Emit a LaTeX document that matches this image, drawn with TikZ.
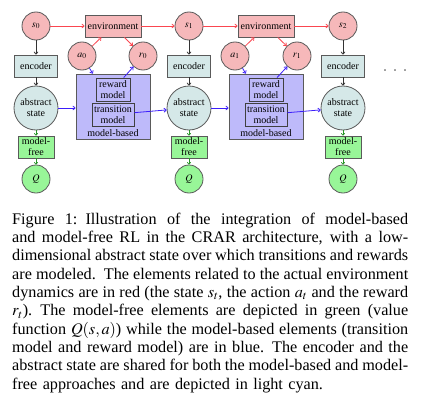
\documentclass[tikz,border=0pt]{standalone}
\usepackage{mathptmx}
\usepackage{fontspec}
\setmainfont{Liberation Serif}
\usetikzlibrary{arrows.meta}
\definecolor{envred}{RGB}{246,184,186}
\definecolor{encc}{RGB}{213,232,232}
\definecolor{mfg}{RGB}{152,246,152}
\definecolor{mbb}{RGB}{190,186,250}
\definecolor{bord}{RGB}{90,90,90}
\definecolor{redl}{RGB}{250,70,80}
\definecolor{bluel}{RGB}{60,30,250}
\definecolor{greenl}{RGB}{40,150,40}
\newcommand{\jline}[1]{\hbox to 396pt{\spaceskip=0.25em plus 3em minus 0.1em\relax #1}}
\tikzset{
  basenode/.style={draw=bord, line width=0.8pt, inner sep=0pt, font=\fontsize{10}{11}\selectfont, align=center},
  redcirc/.style={basenode, circle, fill=envred, minimum size=28pt},
  envbox/.style={basenode, rectangle, fill=envred, minimum width=56pt, minimum height=22pt},
  encbox/.style={basenode, rectangle, fill=encc, minimum width=43pt, minimum height=22pt},
  ascirc/.style={basenode, circle, fill=encc, minimum size=44pt},
  mfbox/.style={basenode, rectangle, fill=mfg, minimum width=36pt, minimum height=22pt},
  qcirc/.style={basenode, circle, fill=mfg, minimum size=28pt},
  mbbox/.style={basenode, rectangle, fill=mbb, minimum width=74pt, minimum height=65pt},
  rmbox/.style={basenode, rectangle, fill=mbb, draw=black!75, minimum width=34pt, minimum height=23pt},
  tmbox/.style={basenode, rectangle, fill=mbb, draw=black!75, minimum width=42pt, minimum height=23pt},
  mblabel/.style={inner sep=0pt, font=\fontsize{10}{11}\selectfont},
  redarr/.style={-{To[length=3pt,width=4.5pt]}, redl, line width=0.8pt},
  bluearr/.style={-{To[length=3pt,width=4.5pt]}, bluel, line width=0.8pt},
  blackarr/.style={-{To[length=3pt,width=4.5pt]}, black!80, line width=0.8pt},
  greenarr/.style={-{To[length=2.5pt,width=4pt]}, greenl, line width=0.8pt},
}
\begin{document}
\begin{tikzpicture}[x=1pt,y=-1pt]
\useasboundingbox (0,0) rectangle (422,404);
% model-based boxes first
\node[mbbox] (mb0) at (113,106.5) {};
\node[mbbox] (mb1) at (266,106.5) {};
\node[rmbox] (rm0) at (113,89.5) {reward\\model};
\node[tmbox] (tm0) at (113,114.5) {transition\\model};
\node[mblabel] (mbl0) at (113,133) {model-based};
\node[rmbox] (rm1) at (266,89.5) {reward\\model};
\node[tmbox] (tm1) at (266,114.5) {transition\\model};
\node[mblabel] (mbl1) at (266,133) {model-based};
% states
\node[redcirc] (s0) at (36,26) {$s_0$};
\node[redcirc] (s1) at (189,26) {$s_1$};
\node[redcirc] (s2) at (343,26) {$s_2$};
\node[envbox] (env0) at (113,26) {environment};
\node[envbox] (env1) at (266,26) {environment};
\node[redcirc] (a0) at (82,56) {$a_0$};
\node[redcirc] (r0) at (143,56) {$r_0$};
\node[redcirc] (a1) at (235,56) {$a_1$};
\node[redcirc] (r1) at (297,56) {$r_1$};
% columns
\foreach \i/\x in {0/36,1/189,2/343}{
  \node[encbox] (enc\i) at (\x,66) {encoder};
  \node[ascirc] (as\i) at (\x,108) {abstract\\state};
  \node[mfbox] (mf\i) at (\x,147) {model-\\free};
  \node[qcirc] (q\i) at (\x,179) {$Q$};
  \draw[blackarr] (s\i) -- (enc\i);
  \draw[blackarr] (enc\i) -- (as\i);
  \draw[greenarr] (as\i) -- (mf\i);
  \draw[greenarr] (mf\i) -- (q\i);
}
\node[inner sep=0pt, font=\fontsize{12}{12}\selectfont] (dots) at (395,72) {·\hspace{6pt}·\hspace{6pt}·};
% red arrows
\draw[redarr] (s0) -- (env0);
\draw[redarr] (env0) -- (s1);
\draw[redarr] (s1) -- (env1);
\draw[redarr] (env1) -- (s2);
\draw[redarr] (a0) -- (env0);
\draw[redarr] (env0) -- (r0);
\draw[redarr] (a1) -- (env1);
\draw[redarr] (env1) -- (r1);
% blue arrows
\draw[bluearr] (a0) -- (mb0);
\draw[bluearr] (rm0) -- (r0);
\draw[bluearr] (as0) -- (mb0.west |- as0.east);
\draw[bluearr] (tm0) -- (as1);
\draw[bluearr] (a1) -- (mb1);
\draw[bluearr] (rm1) -- (r1);
\draw[bluearr] (as1) -- (mb1.west |- as1.east);
\draw[bluearr] (tm1) -- (as2);
% caption
\node[anchor=north west, inner sep=0pt, text width=396pt, align=left,
      font=\fontsize{16.2}{18.33}\selectfont] (cap) at (12,212.5) {%
\jline{Figure 1: Illustration of the integration of model-based}
\jline{and model-free RL in the CRAR architecture, with a low-}
\jline{dimensional abstract state over which transitions and rewards}
\jline{are modeled. The elements related to the actual environment}
\jline{dynamics are in red (the state $s_t$, the action $a_t$ and the reward}
\jline{$r_t$). The model-free elements are depicted in green (value}
\jline{function $Q(s,a)$) while the model-based elements (transition}
\jline{model and reward model) are in blue. The encoder and the}
\jline{abstract state are shared for both the model-based and model-}
\hbox{free approaches and are depicted in light cyan.}};
\end{tikzpicture}
\end{document}
